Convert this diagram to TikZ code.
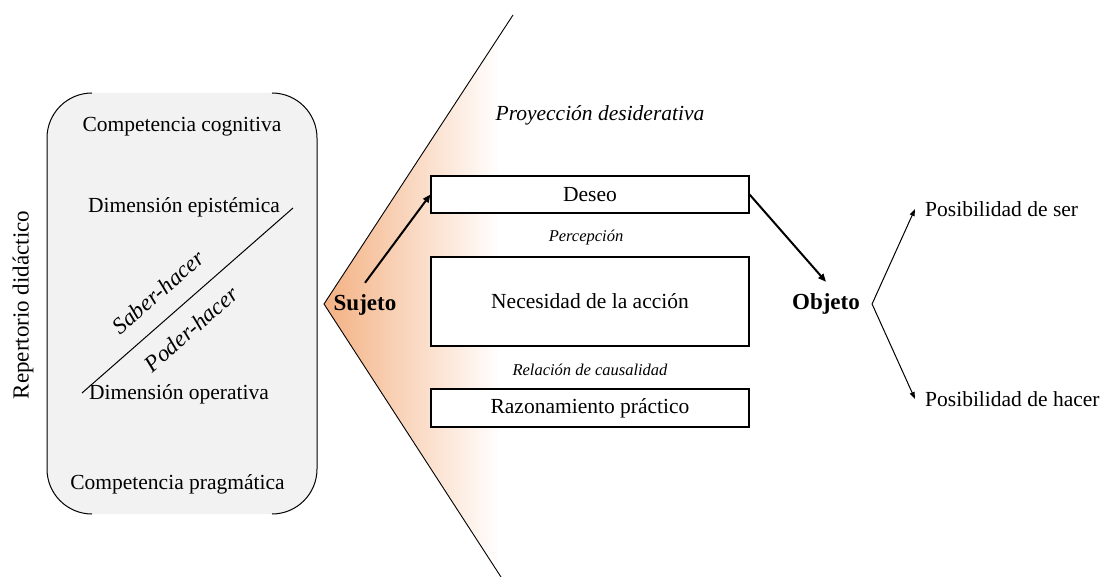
\documentclass[tikz,border=0pt]{standalone}
\usepackage{fontspec}
\setmainfont{Liberation Serif}
\usetikzlibrary{arrows.meta}
\definecolor{peach}{RGB}{244,177,131}
\definecolor{boxgray}{RGB}{242,242,242}
\begin{document}
\begin{tikzpicture}[x=1pt,y=-1pt,
  txt/.style={font=\fontsize{21.5pt}{26pt}\selectfont, inner sep=0pt},
  diag/.style={font=\fontsize{23pt}{27pt}\selectfont\itshape, inner sep=0pt, rotate=41.2},
  small/.style={font=\fontsize{16.5pt}{20pt}\selectfont\itshape, inner sep=0pt},
  bold/.style={font=\fontsize{23pt}{27pt}\selectfont\bfseries, inner xsep=12pt, inner ysep=0pt, minimum height=44pt},
  stepbox/.style={draw, fill=white, line width=1.1pt, minimum width=318pt, inner sep=0pt, font=\fontsize{21.5pt}{26pt}\selectfont},
  thickarrow/.style={line width=2pt, -{Triangle[length=8pt,width=6.5pt]}},
  thinarrow/.style={line width=1pt, -{Triangle[length=7pt,width=5pt]}},
  outline/.style={line width=1pt}
]
\useasboundingbox (0,0) rectangle (1102,577);
% left rounded panel
\fill[boxgray, rounded corners=45pt] (47,93) rectangle (317,514);
\draw[outline] (92,93) .. controls (67.15,93) and (47,113.15) .. (47,138) -- (47,469) .. controls (47,493.85) and (67.15,514) .. (92,514);
\draw[outline] (272,93) .. controls (296.85,93) and (317,113.15) .. (317,138) -- (317,469) .. controls (317,493.85) and (296.85,514) .. (272,514);
\node[txt, font=\fontsize{23pt}{27pt}\selectfont, rotate=90] (rep) at (23,305) {Repertorio didáctico};
\node[txt] (cc) at (182,127) {Competencia cognitiva};
\node[txt] (de) at (184,207) {Dimensión epistémica};
\node[txt] (do) at (179,394) {Dimensión operativa};
\node[txt] (cp) at (177.5,484) {Competencia pragmática};
\draw[line width=1pt] (82,393) -- (293,208);
\node[diag] (sh) at (158,292) {Saber-hacer};
\node[diag] (ph) at (191,329) {Poder-hacer};
% chevron with gradient
\begin{scope}
  \clip (513,15) -- (324,304) -- (501,577) -- (620,577) -- (620,15) -- cycle;
  \shade[left color=peach, right color=white] (324,15) rectangle (500,577);
\end{scope}
\draw[line width=0.9pt] (513,15) -- (324,304) -- (501,577);
% boxes
\node[txt, font=\fontsize{21.5pt}{26pt}\selectfont\itshape] (proy) at (600,115) {Proyección desiderativa};
\node[stepbox, minimum height=37pt] (deseo) at (590,194.5) {Deseo};
\node[small] (perc) at (586,238) {Percepción};
\node[stepbox, minimum height=89pt] (nec) at (590,301.5) {Necesidad de la acción};
\node[small] (rel) at (590,370) {Relación de causalidad};
\node[stepbox, minimum height=38pt] (raz) at (590,408) {Razonamiento práctico};
% subject and object
\node[bold] (sujeto) at (365,305) {Sujeto};
\node[bold] (objeto) at (826,304) {Objeto};
\node[txt, anchor=west, inner xsep=10pt] (pser) at (915,209) {Posibilidad de ser};
\node[txt, anchor=west, inner xsep=10pt] (phac) at (915,399) {Posibilidad de hacer};
\draw[thickarrow] (sujeto.north) -- (deseo.west);
\draw[thickarrow] (deseo.east) -- (objeto.north);
\draw[thinarrow] (objeto.east) -- (pser.west);
\draw[thinarrow] (objeto.east) -- (phac.west);
\end{tikzpicture}
\end{document}
